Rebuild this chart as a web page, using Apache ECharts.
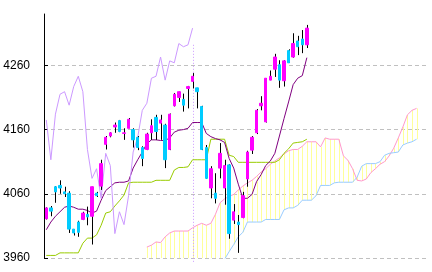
<!DOCTYPE html>
<html><head><meta charset="utf-8">
<script src="https://cdn.jsdelivr.net/npm/echarts@6/dist/echarts.min.js"></script>
<style>html,body{margin:0;padding:0;background:#fff}#c{width:432px;height:272px}</style>
</head><body><div id="c"></div>
<script>
const opens = [4021,4038,4071,4073,4063,4061,4005,4016,4020,4028,
 4025,4061,4072,4137,4150,4164,4174,4154,4162,4160,
 4148,4132,4129,4155,4179,4170,4167,4129,4197,4210,
 4207,4224,4235,4225,4196,4132,4069,4061,4100,4069,
 4105,4019,4016,4023,4083,4128,4155,4197,4172,4237,
 4254,4261,4236,4283,4273,4298,4301,4292];
const closes = [4038,4033,4063,4069,4060,4005,3999,4000,4030,4024,
 4071,4057,4107,4148,4155,4167,4157,4155,4176,4144,
 4132,4115,4153,4166,4157,4175,4113,4184,4215,4219,
 4198,4227,4243,4219,4129,4084,4099,4053,4123,4104,
 3998,4032,4012,4057,4125,4148,4190,4201,4240,4243,
 4273,4237,4267,4264,4294,4289,4292,4318];
const lows = [4020,4025,4046,4060,4055,3999,3995,3993,4019,4011,
 3981,4055,4066,4129,4148,4155,4156,4144,4162,4132,
 4128,4103,4128,4144,4144,4144,4100,4128,4196,4203,
 4188,4193,4224,4193,4128,4083,4053,4045,4084,4043,
 3990,4013,3968,4022,4071,4122,4153,4190,4171,4237,
 4242,4225,4227,4264,4272,4276,4279,4287];
const highs = [4039,4041,4072,4081,4071,4064,4005,4018,4032,4040,
 4071,4063,4113,4150,4156,4171,4175,4162,4178,4162,
 4150,4134,4155,4176,4183,4183,4169,4185,4217,4219,
 4216,4228,4248,4225,4197,4136,4103,4092,4139,4113,
 4106,4044,4027,4063,4127,4150,4192,4212,4240,4252,
 4278,4268,4268,4285,4310,4306,4315,4323];
const tenkan = [4004,4016,4025,4032,4039,4041,4039,4036,4036,4034,
 4030,4033,4050,4065,4071,4077,4078,4078,4080,4100,
 4113,4125,4138,4144,4144,4143,4143,4147,4156,4159,
 4160,4162,4171,4171,4171,4154,4149,4146,4144,4140,
 4115,4100,4075,4053,4053,4059,4079,4090,4104,4111,
 4123,4150,4177,4203,4230,4240,4244,4272];
const kijun = [3964,3964,3964,3968,3968,3968,3968,3968,3983,3991,
 3991,3996,4011,4030,4032,4041,4049,4058,4077,4078,
 4078,4078,4078,4078,4081,4081,4081,4081,4097,4101,
 4101,4102,4113,4113,4113,4113,4145,4145,4145,4145,
 4120,4118,4109,4109,4109,4109,4109,4109,4109,4109,
 4109,4113,4123,4130,4139,4140,4141,4145];
const lagging = [4175,4113,4184,4215,4219,4198,4227,4243,4219,4129,
 4084,4099,4053,4123,4104,3998,4032,4012,4057,4125,
 4148,4190,4201,4240,4243,4273,4237,4267,4264,4294,
 4289,4292,4318];
const cloudStart = 22;
const spanA = [3977,3980,3985,3984,3993,3999,4002,4002,4002,4002,
 4007,4011,4014,4011,4014,4028,4046,4052,4056,4059,
 4066,4072,4077,4081,4087,4094,4099,4106,4111,4116,
 4122,4127,4129,4129,4134,4141,4141,4141,4133,4147,
 4145,4145,4145,4119,4112,4099,4081,4080,4083,4093,
 4099,4106,4110,4119,4131,4147,4164,4183,4190,4193];
const spanB = [3950,3950,3950,3950,3950,3950,3950,3950,3950,3950,
 3950,3950,3950,3950,3950,3950,3950,3958,3970,3981,
 3993,4000,4016,4016,4016,4016,4020,4020,4020,4020,
 4035,4038,4038,4042,4050,4050,4050,4057,4073,4073,
 4073,4077,4078,4078,4078,4078,4086,4103,4107,4107,
 4107,4110,4120,4123,4124,4125,4136,4139,4141,4145];
const slotCount = 84;
const markerIndex = 32;
const markerTop = 4292, markerBottom = 3952;

const cats = Array.from({length: slotCount}, (_, i) => String(i));
const pad = (arr, start) => { const out = new Array(slotCount).fill('-'); arr.forEach((v, i) => { out[start + i] = v; }); return out; };

const bodies = opens.map((o, i) => [o, closes[i], Math.min(o, closes[i]), Math.max(o, closes[i])]);
const wicks = opens.map((o, i) => [i, lows[i], highs[i]]);
const cloud = spanA.map((a, i) => [cloudStart + i, a, spanB[i]]);

function vline(color, dash, clampIt) {
  return function (params, api) {
    const cs = params.coordSys;
    const p1 = api.coord([api.value(0), api.value(1)]);
    const p2 = api.coord([api.value(0), api.value(2)]);
    const lo = cs.y, hi = cs.y + cs.height;
    const clamp = v => clampIt ? Math.max(lo, Math.min(hi, v)) : v;
    const x = Math.round(p1[0]) + 0.5;
    const style = { stroke: color, lineWidth: 1 };
    if (dash) style.lineDash = dash;
    return { type: 'line', shape: { x1: x, y1: clamp(p1[1]), x2: x, y2: clamp(p2[1]) }, style: style };
  };
}

const lineBase = { type: 'line', symbol: 'none', showSymbol: false, smooth: false, silent: true, animation: false, connectNulls: false };

const chart = echarts.init(document.getElementById('c'), null, { renderer: 'canvas' });
chart.setOption({
  animation: false,
  backgroundColor: '#fff',
  grid: { left: 44, right: 4, top: 14, bottom: 14 },
  xAxis: { type: 'category', data: cats, show: false, boundaryGap: true },
  yAxis: {
    type: 'value', min: 3960, max: 4340, interval: 100,
    axisLine: { show: true, lineStyle: { color: '#000', width: 1 } },
    axisTick: { show: true, inside: true, length: 4, lineStyle: { color: '#000' } },
    axisLabel: { color: '#000', fontSize: 12, fontFamily: 'Liberation Sans, Arial, sans-serif', margin: 14, showMaxLabel: false,
      formatter: v => String(v) },
    splitLine: { show: true, lineStyle: { color: ['#c0c0c0', '#c0c0c0', '#c0c0c0', '#c0c0c0', 'rgba(0,0,0,0)'], type: [4, 3], width: 1 } }
  },
  series: [
    { type: 'custom', name: 'cloud', data: cloud, renderItem: vline('#ffff99', null, true), encode: { x: 0, y: [1, 2] }, silent: true, z: 1 },
    Object.assign({}, lineBase, { name: 'spanA', data: pad(spanA, cloudStart), lineStyle: { color: '#ff99cc', width: 1 }, z: 2 }),
    Object.assign({}, lineBase, { name: 'spanB', data: pad(spanB, cloudStart), lineStyle: { color: '#99ccff', width: 1 }, z: 2 }),
    { type: 'custom', name: 'marker', data: [[markerIndex, markerTop, markerBottom]], renderItem: vline('#cc99ff', [1, 2], false),
      encode: { x: 0, y: [1, 2] }, silent: true, clip: false, z: 2 },
    Object.assign({}, lineBase, { name: 'kijun', data: pad(kijun, 0), lineStyle: { color: '#99cc00', width: 1 }, z: 3 }),
    Object.assign({}, lineBase, { name: 'tenkan', data: pad(tenkan, 0), lineStyle: { color: '#800080', width: 1 }, z: 3 }),
    Object.assign({}, lineBase, { name: 'lagging', data: pad(lagging, 0), lineStyle: { color: '#cc99ff', width: 1 }, z: 3 }),
    { type: 'custom', name: 'wicks', data: wicks, renderItem: vline('#000000', null, true), encode: { x: 0, y: [1, 2] }, silent: true, z: 4 },
    { type: 'candlestick', name: 'price', data: bodies, barWidth: 3, silent: true, z: 5,
      itemStyle: { color: '#ff00ff', color0: '#00ccff', borderColor: '#ff00ff', borderColor0: '#00ccff', borderWidth: 1 } }
  ]
});
</script>
</body></html>
